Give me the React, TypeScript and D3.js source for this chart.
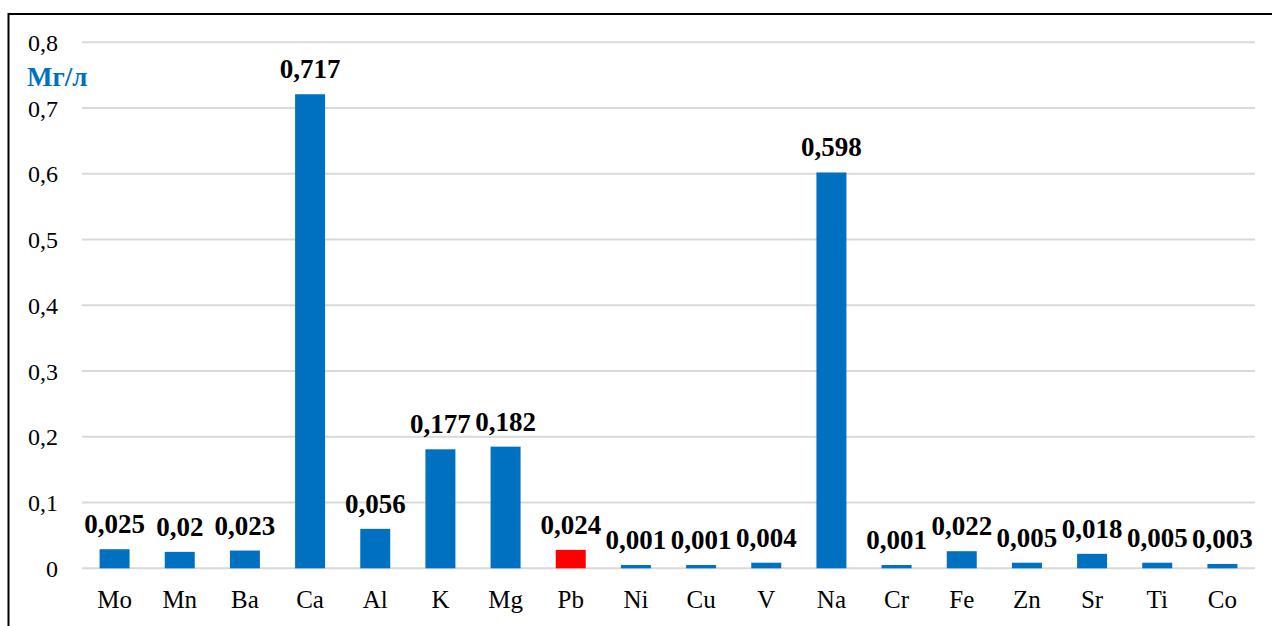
import React, { useRef, useEffect } from "react";
import * as d3 from "d3";

// элементы и значения (высоты столбцов, подписи — как на графике)
const categories = ["Mo", "Mn", "Ba", "Ca", "Al", "K", "Mg", "Pb", "Ni", "Cu", "V", "Na", "Cr", "Fe", "Zn", "Sr", "Ti", "Co"];
const barValues = [0.029, 0.025, 0.027, 0.721, 0.06, 0.181, 0.185, 0.028, 0.005, 0.005, 0.0085, 0.602, 0.005, 0.026, 0.0085, 0.022, 0.0085, 0.0066];
const valueLabels = ["0,025", "0,02", "0,023", "0,717", "0,056", "0,177", "0,182", "0,024", "0,001", "0,001", "0,004", "0,598", "0,001", "0,022", "0,005", "0,018", "0,005", "0,003"];
const highlighted = ["Pb"];
const yTicks = [0, 0.1, 0.2, 0.3, 0.4, 0.5, 0.6, 0.7, 0.8];
const unitLabel = "Мг/л";

const WIDTH = 1272;
const HEIGHT = 626;
const FONT = "Liberation Serif, Times New Roman, serif";

const App: React.FC = () => {
  const svgRef = useRef<SVGSVGElement>(null);

  useEffect(() => {
    if (!svgRef.current) return;
    const svg = d3.select(svgRef.current);
    svg.selectAll("*").remove();

    const y = d3.scaleLinear().domain([0, 0.8]).range([568.3, 42.3]);
    const x = d3
      .scaleBand<string>()
      .domain(categories)
      .range([82, 1255])
      .paddingInner(0.54)
      .paddingOuter(0.27);

    // рамка
    svg
      .append("rect")
      .attr("x", 8.5)
      .attr("y", 14)
      .attr("width", 1400)
      .attr("height", 800)
      .attr("fill", "white")
      .attr("stroke", "black")
      .attr("stroke-width", 2);

    // сетка
    svg
      .append("g")
      .selectAll("line")
      .data(yTicks)
      .join("line")
      .attr("x1", 82)
      .attr("x2", 1255)
      .attr("y1", (d) => y(d))
      .attr("y2", (d) => y(d))
      .attr("stroke", "#d9d9d9")
      .attr("stroke-width", 2);

    // подписи оси Y
    svg
      .append("g")
      .selectAll("text")
      .data(yTicks)
      .join("text")
      .attr("x", 58)
      .attr("y", (d) => y(d) + 8.5)
      .attr("text-anchor", "end")
      .style("font-family", FONT)
      .attr("font-size", 24)
      .attr("fill", "#000")
      .text((d) => (d === 0 ? "0" : d3.format(".1f")(d).replace(".", ",")));

    svg
      .append("text")
      .attr("x", 27)
      .attr("y", 86)
      .style("font-family", FONT)
      .attr("font-size", 27)
      .attr("font-weight", "bold")
      .attr("fill", "#0070C0")
      .text(unitLabel);

    const data = categories.map((c, i) => ({ c, v: barValues[i], label: valueLabels[i] }));

    // столбцы
    svg
      .append("g")
      .selectAll("rect")
      .data(data)
      .join("rect")
      .attr("x", (d) => x(d.c) as number)
      .attr("y", (d) => y(d.v))
      .attr("width", x.bandwidth())
      .attr("height", (d) => y(0) - y(d.v))
      .attr("fill", (d) => (highlighted.includes(d.c) ? "#FF0000" : "#0070C0"));

    // подписи значений
    svg
      .append("g")
      .selectAll("text")
      .data(data)
      .join("text")
      .attr("x", (d) => (x(d.c) as number) + x.bandwidth() / 2)
      .attr("y", (d) => y(d.v) - 16)
      .attr("text-anchor", "middle")
      .style("font-family", FONT)
      .attr("font-size", 27)
      .attr("font-weight", "bold")
      .attr("fill", "#000")
      .text((d) => d.label);

    // подписи категорий
    svg
      .append("g")
      .selectAll("text")
      .data(categories)
      .join("text")
      .attr("x", (d) => (x(d) as number) + x.bandwidth() / 2)
      .attr("y", 608)
      .attr("text-anchor", "middle")
      .style("font-family", FONT)
      .attr("font-size", 25)
      .attr("fill", "#000")
      .text((d) => d);
  }, []);

  return (
    <div style={{ position: "fixed", left: 0, top: 0, width: WIDTH, height: HEIGHT, background: "white" }}>
      <svg ref={svgRef} width={WIDTH} height={HEIGHT} style={{ display: "block" }}></svg>
    </div>
  );
};

export default App;
